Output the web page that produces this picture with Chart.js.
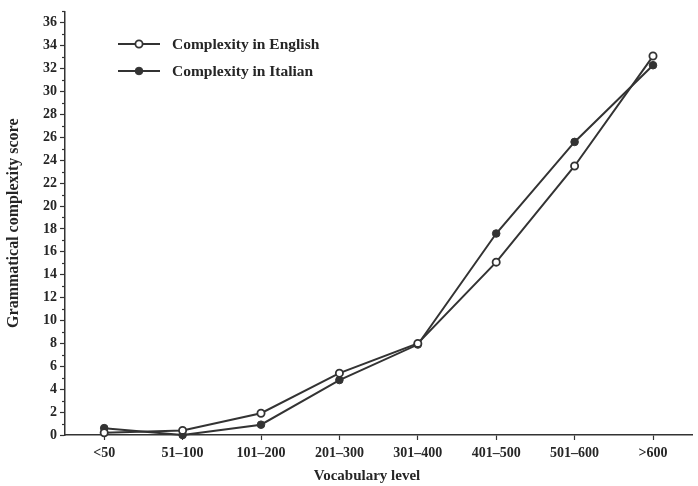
<!DOCTYPE html>
<html>
<head>
<meta charset="utf-8">
<script src="https://cdn.jsdelivr.net/npm/chart.js@4/dist/chart.umd.min.js"></script>
<style>
  html, body { margin: 0; padding: 0; background: #ffffff; }
  #wrap { width: 698px; height: 486px; }
</style>
</head>
<body>
<div id="wrap"><canvas id="chart" width="698" height="486"></canvas></div>
<script>
// Vocabulary bands on the x axis
const vocabularyLevels = ['<50', '51–100', '101–200', '201–300', '301–400', '401–500', '501–600', '>600'];
// Grammatical complexity scores per band
const englishScores = [0.2, 0.4, 1.9, 5.4, 8.0, 15.1, 23.5, 33.1];
const italianScores = [0.6, 0.0, 0.9, 4.8, 7.9, 17.6, 25.6, 32.3];
// Y axis range: labelled every 2 points, minor ticks every 1
const yMin = 0;
const yMax = 37;
const yLabelStep = 2;
const xAxisTitle = 'Vocabulary level';

const ink = '#333333';
const textInk = '#262626';
const serif = '"Liberation Serif", "Times New Roman", serif';

// Short unlabelled ticks at the odd values of the y axis
const minorTicks = {
  id: 'minorTicks',
  afterDraw(chart) {
    const y = chart.scales.y;
    const c = chart.ctx;
    c.save();
    c.strokeStyle = ink;
    c.lineWidth = 1.2;
    for (let v = yMin; v <= yMax; v++) {
      if (v % yLabelStep === 0) continue;
      const py = Math.round(y.getPixelForValue(v)) + 0.5;
      c.beginPath();
      c.moveTo(y.right - 3, py);
      c.lineTo(y.right, py);
      c.stroke();
    }
    c.restore();
  }
};

// X axis title, set a little left of the axis centre
const xTitle = {
  id: 'xTitle',
  afterDraw(chart) {
    const c = chart.ctx;
    c.save();
    c.fillStyle = textInk;
    c.font = 'bold 15px ' + serif;
    c.textAlign = 'center';
    c.textBaseline = 'middle';
    c.fillText(xAxisTitle, 367, 476);
    c.restore();
  }
};

// Legend drawn inside the plot, top-left
const insideLegend = {
  id: 'insideLegend',
  afterDraw(chart) {
    const c = chart.ctx;
    c.save();
    chart.data.datasets.forEach((ds, i) => {
      const ly = 44 + i * 27;
      c.strokeStyle = ds.borderColor;
      c.lineWidth = ds.borderWidth;
      c.beginPath();
      c.moveTo(118, ly);
      c.lineTo(160, ly);
      c.stroke();
      c.beginPath();
      c.arc(139, ly, ds.pointRadius, 0, Math.PI * 2);
      c.fillStyle = ds.pointBackgroundColor;
      c.fill();
      c.lineWidth = ds.pointBorderWidth;
      c.strokeStyle = ds.pointBorderColor;
      c.stroke();
      c.fillStyle = textInk;
      c.font = 'bold 15.5px ' + serif;
      c.textBaseline = 'middle';
      c.textAlign = 'left';
      c.fillText(ds.label, 172, ly + 1);
    });
    c.restore();
  }
};

new Chart(document.getElementById('chart'), {
  type: 'line',
  data: {
    labels: vocabularyLevels,
    datasets: [
      {
        label: 'Complexity in English',
        data: englishScores,
        borderColor: ink,
        borderWidth: 2,
        pointRadius: 3.6,
        pointBackgroundColor: '#ffffff',
        pointBorderColor: ink,
        pointBorderWidth: 1.8,
        tension: 0,
        clip: false
      },
      {
        label: 'Complexity in Italian',
        data: italianScores,
        borderColor: ink,
        borderWidth: 2,
        pointRadius: 3.8,
        pointBackgroundColor: ink,
        pointBorderColor: ink,
        pointBorderWidth: 1,
        tension: 0,
        clip: false
      }
    ]
  },
  options: {
    responsive: false,
    animation: false,
    devicePixelRatio: 1,
    layout: { padding: { top: 10, right: 1, left: 0, bottom: 0 } },
    plugins: { legend: { display: false }, tooltip: { enabled: false } },
    scales: {
      x: {
        type: 'category',
        offset: true,
        afterFit(scale) { scale.height = 51; },
        border: { color: ink, width: 1.5 },
        grid: { offset: false, drawOnChartArea: false, tickLength: 5, color: ink, tickColor: ink, tickWidth: 1.2 },
        ticks: {
          color: textInk, padding: 5, maxRotation: 0, autoSkip: false,
          font: { family: serif, size: 14, weight: 'bold' }
        },
        title: { display: false }
      },
      y: {
        min: yMin,
        max: yMax,
        afterFit(scale) { scale.width = 65; },
        border: { color: ink, width: 1.5 },
        grid: {
          drawOnChartArea: false, tickLength: 5, tickWidth: 1.2,
          tickColor: (ctx) => (ctx.tick && ctx.tick.value % yLabelStep === 0 ? ink : 'rgba(0,0,0,0)')
        },
        ticks: {
          stepSize: 1, autoSkip: false, padding: 3, color: textInk,
          font: { family: serif, size: 14, weight: 'bold' },
          callback: (v) => (v % yLabelStep === 0 ? String(v) : '')
        },
        title: {
          display: true, text: 'Grammatical complexity score', color: textInk,
          padding: { top: 4, bottom: 0 },
          font: { family: serif, size: 16, weight: 'bold' }
        }
      }
    }
  },
  plugins: [minorTicks, xTitle, insideLegend]
});
</script>
</body>
</html>
